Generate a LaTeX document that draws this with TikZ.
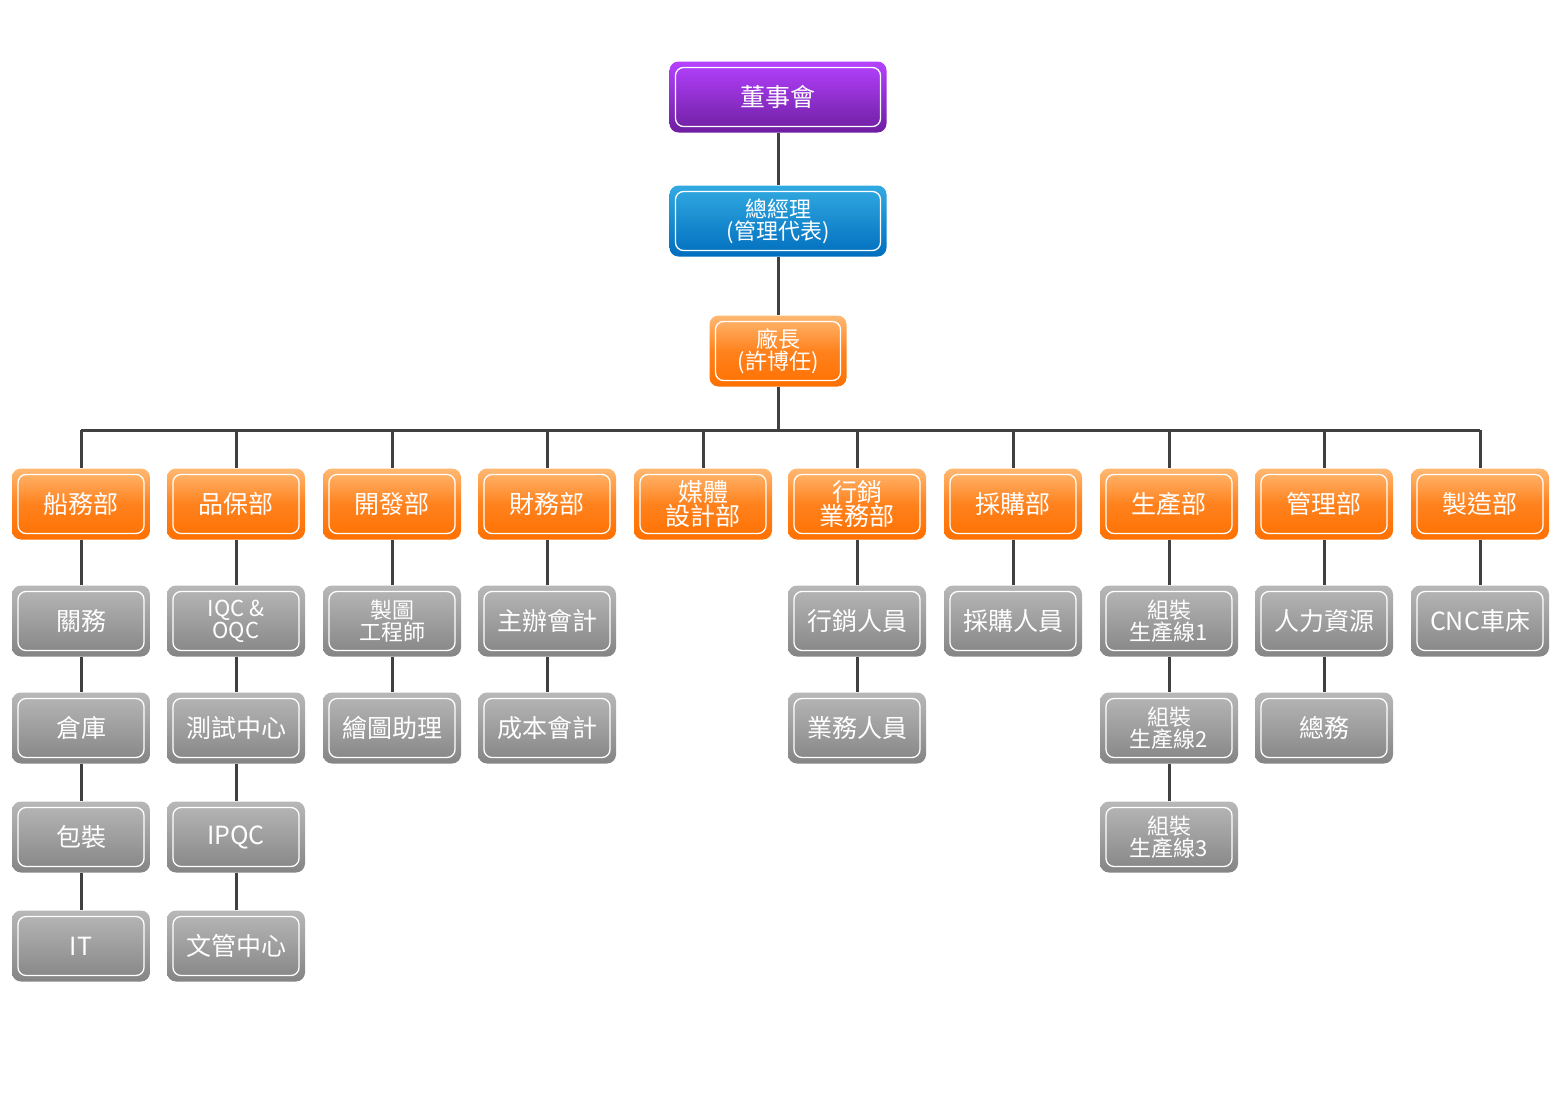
\documentclass[tikz,border=0pt]{standalone}
\usepackage{fontspec}
\setmainfont{Noto Sans CJK TC}
\begin{document}
\begin{tikzpicture}[x=1pt,y=-1pt,
 bx/.style={rounded corners=9pt, minimum width=138pt, minimum height=71pt, inner sep=1pt, align=center, text=white, font=\fontsize{25}{24}\selectfont,
   path picture={\draw[white,line width=1.3pt,rounded corners=8pt] ([shift={(6pt,6pt)}]path picture bounding box.south west) rectangle ([shift={(-6pt,-6pt)}]path picture bounding box.north east);}},
 og/.style={bx, top color=orange!55!white, bottom color={rgb,255:red,255;green,112;blue,0}, middle color={rgb,255:red,255;green,130;blue,30}},
 gy/.style={bx, top color=black!28, bottom color=black!48},
 sm/.style={font=\fontsize{22}{22}\selectfont},
 ln/.style={draw={rgb,255:red,64;green,64;blue,64}, line width=3pt}]
\useasboundingbox (0,0) rectangle (1556,1100);
\node[bx, minimum width=217pt, top color={rgb,255:red,180;green,65;blue,255}, bottom color={rgb,255:red,110;green,30;blue,160}] (a) at (778,97) {董事會};
\node[bx, minimum width=217pt, top color={rgb,255:red,50;green,170;blue,225}, bottom color={rgb,255:red,0;green,110;blue,190}, font=\fontsize{22}{22}\selectfont] (b) at (778,221) {總經理\\(管理代表)};
\node[og, minimum width=137pt, font=\fontsize{22}{22}\selectfont] (c) at (778,351) {廠長\\(許博任)};
\draw[ln] (a) -- (b); \draw[ln] (b) -- (c);
\coordinate (bus) at (778,430);
\draw[ln] (c) -- (bus);
\foreach \i/\x/\t in {1/81/船務部,2/236/品保部,3/392/開發部,4/547/財務部,5/703/{媒體\\設計部},6/857/{行銷\\業務部},7/1013/採購部,8/1169/生產部,9/1324/管理部,10/1480/製造部}{
 \node[og] (d\i) at (\x,504) {\t};
 \coordinate (t\i) at (\x,430);
}
\draw[ln] (t1) -- (t10);
\foreach \i in {1,...,10} \draw[ln] (t\i) -- (d\i);
\node[gy] (e1) at (81,621) {關務};
\node[gy] (f1) at (81,728) {倉庫};
\node[gy] (g1) at (81,837) {包裝};
\node[gy] (h1) at (81,946) {IT};
\node[gy,sm] (e2) at (236,621) {IQC \&\\OQC};
\node[gy] (f2) at (236,728) {測試中心};
\node[gy] (g2) at (236,837) {IPQC};
\node[gy] (h2) at (236,946) {文管中心};
\node[gy,sm] (e3) at (392,621) {製圖\\工程師};
\node[gy] (f3) at (392,728) {繪圖助理};
\node[gy] (e4) at (547,621) {主辦會計};
\node[gy] (f4) at (547,728) {成本會計};
\node[gy] (e6) at (857,621) {行銷人員};
\node[gy] (f6) at (857,728) {業務人員};
\node[gy] (e7) at (1013,621) {採購人員};
\node[gy,sm] (e8) at (1169,621) {組裝\\生產線1};
\node[gy,sm] (f8) at (1169,728) {組裝\\生產線2};
\node[gy,sm] (g8) at (1169,837) {組裝\\生產線3};
\node[gy] (e9) at (1324,621) {人力資源};
\node[gy] (f9) at (1324,728) {總務};
\node[gy] (e10) at (1480,621) {CNC車床};
\draw[ln] (d1)--(e1); \draw[ln] (e1)--(f1); \draw[ln] (f1)--(g1); \draw[ln] (g1)--(h1);
\draw[ln] (d2)--(e2); \draw[ln] (e2)--(f2); \draw[ln] (f2)--(g2); \draw[ln] (g2)--(h2);
\draw[ln] (d3)--(e3); \draw[ln] (e3)--(f3);
\draw[ln] (d4)--(e4); \draw[ln] (e4)--(f4);
\draw[ln] (d6)--(e6); \draw[ln] (e6)--(f6);
\draw[ln] (d7)--(e7);
\draw[ln] (d8)--(e8); \draw[ln] (e8)--(f8); \draw[ln] (f8)--(g8);
\draw[ln] (d9)--(e9); \draw[ln] (e9)--(f9);
\draw[ln] (d10)--(e10);
\end{tikzpicture}
\end{document}
